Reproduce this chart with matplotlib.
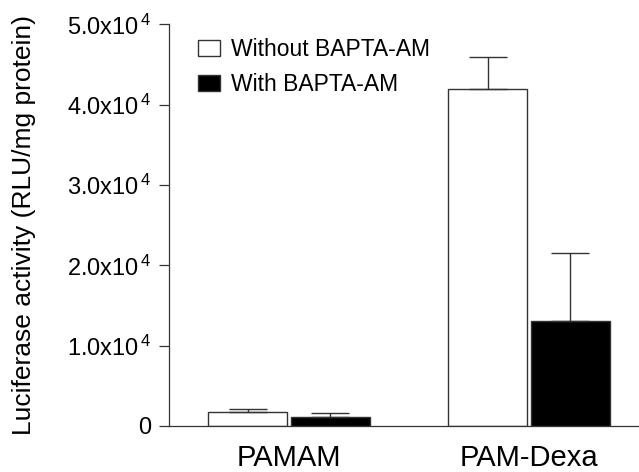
import matplotlib
matplotlib.use("Agg")
import matplotlib.pyplot as plt
import numpy as np
from matplotlib.patches import Patch

plt.rcParams['font.family'] = ['Liberation Sans', 'DejaVu Sans']
plt.rcParams['mathtext.fontset'] = 'custom'
plt.rcParams['mathtext.rm'] = 'Liberation Sans'
plt.rcParams['mathtext.it'] = 'Liberation Sans'

categories = ["PAMAM", "PAM-Dexa"]
series_names = ["Without BAPTA-AM", "With BAPTA-AM"]
without_vals = [1750, 41950]
without_err = [370, 4060]
with_vals = [1120, 13090]
with_err = [550, 8480]
ytick_vals = [0, 10000, 20000, 30000, 40000, 50000]
ytick_labels = ["0", "1.0x10$^{\\,4}$", "2.0x10$^{\\,4}$", "3.0x10$^{\\,4}$", "4.0x10$^{\\,4}$", "5.0x10$^{\\,4}$"]

fig = plt.figure(figsize=(6.39, 4.72), dpi=100)
ax = fig.add_axes([169/639, 1-426/472, 470/639, (426-24.5)/472])

x = np.arange(len(categories))
w = 0.33
off = 0.1725
edge = '#333333'
ax.bar(x - off, without_vals, w, color='white', edgecolor=edge, linewidth=1.0,
       yerr=[np.zeros(len(x)), without_err], capsize=14,
       error_kw=dict(ecolor=edge, elinewidth=1.0, capthick=1.0), zorder=2)
ax.bar(x + off, with_vals, w, color='black', edgecolor=edge, linewidth=1.0,
       yerr=[np.zeros(len(x)), with_err], capsize=14,
       error_kw=dict(ecolor=edge, elinewidth=1.0, capthick=1.0), zorder=2)

ax.set_xlim(-0.5, 1.458)
ax.set_ylim(0, 50000)
ax.set_yticks(ytick_vals)
ax.set_yticklabels(ytick_labels, fontsize=17)
ax.set_xticks(x)
ax.set_xticklabels(categories, fontsize=21)
ax.tick_params(axis='x', length=0, pad=13)
ax.tick_params(axis='y', length=7, width=0.9, color=edge, pad=6)
for s in ['top', 'right']:
    ax.spines[s].set_visible(False)
for s in ['left', 'bottom']:
    ax.spines[s].set_color(edge)
    ax.spines[s].set_linewidth(0.9)
ax.set_ylabel("Luciferase activity (RLU/mg protein)", fontsize=19, labelpad=22)

handles = [Patch(facecolor='white', edgecolor=edge, linewidth=1.0),
           Patch(facecolor='black', edgecolor=edge, linewidth=1.0)]
ax.legend(handles, series_names, loc='upper left', bbox_to_anchor=(0.033, 1.0),
          frameon=False, fontsize=16.5, handlelength=0.95, handleheight=0.72,
          handletextpad=0.5, labelspacing=0.5, borderaxespad=0.2)

fig.savefig("out.png", dpi=100)
